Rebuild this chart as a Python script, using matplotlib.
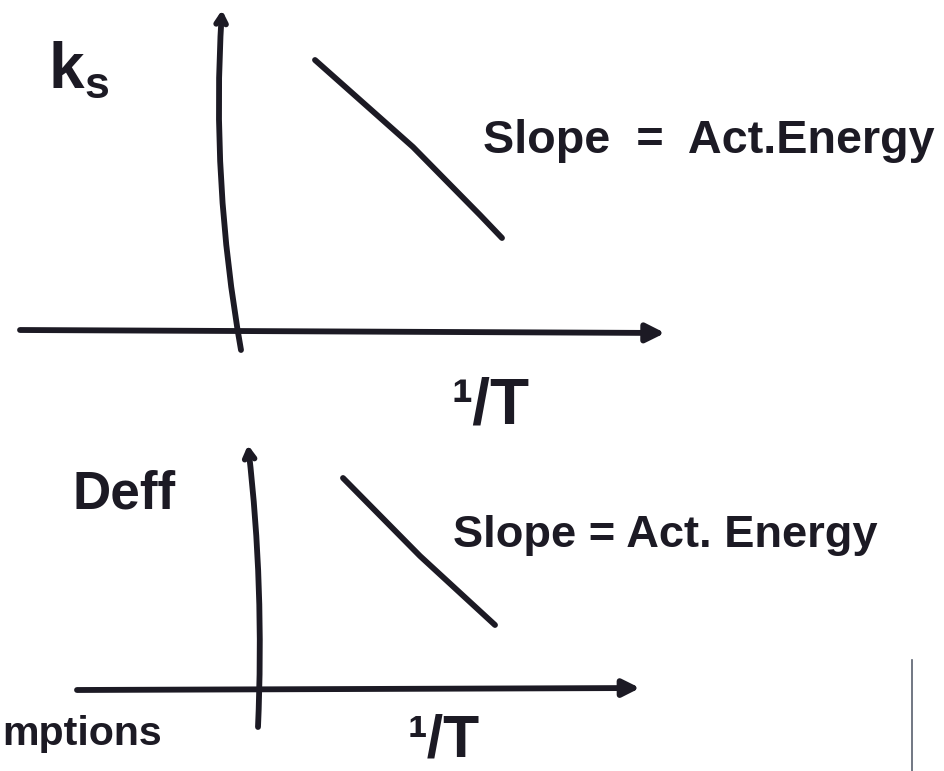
import matplotlib
matplotlib.use("Agg")
import matplotlib.pyplot as plt

# Reaction-rate constant against inverse temperature (Arrhenius sketch)
inv_T_ks = [0.75, 1.73, 2.40, 2.62]
ln_ks = [2.68, 1.81, 1.13, 0.90]

# Effective diffusivity against inverse temperature
inv_T_deff = [0.85, 1.62, 2.37]
ln_deff = [2.12, 1.34, 0.65]

y_label_top = "k$_\\mathregular{s}$"
y_label_bottom = "Deff"
x_label = "\u00b9/T"
slope_text_top = "Slope  =  Act.Energy"
slope_text_bottom = "Slope = Act. Energy"
side_note = "mptions"

INK = "#1c1a24"
LW = 4.2
W, H, DPI = 945, 771, 100

plt.rcParams["font.family"] = ["Liberation Sans Narrow", "Liberation Sans", "DejaVu Sans"]
plt.rcParams["font.weight"] = "bold"

fig = plt.figure(figsize=(W / DPI, H / DPI), dpi=DPI)
fig.patch.set_facecolor("white")


def panel(ox, oy):
    """Full-figure axes, 100 px per unit, origin at pixel (ox, oy)."""
    ax = fig.add_axes([0, 0, 1, 1])
    ax.set_xlim(-ox / 100, (W - ox) / 100)
    ax.set_ylim((oy - H) / 100, oy / 100)
    ax.axis("off")
    ax.patch.set_alpha(0)
    return ax


def fit_width(txt, width_px):
    r = fig.canvas.get_renderer()
    w = txt.get_window_extent(renderer=r).width
    txt.set_fontsize(txt.get_fontsize() * width_px / w)


def axis_arrow(ax, start, end, rad, style, head):
    ax.annotate("", xy=end, xytext=start, annotation_clip=False,
                arrowprops=dict(arrowstyle=f"{style},head_length={head[0]},head_width={head[1]}",
                                connectionstyle=f"arc3,rad={rad}", color=INK, lw=LW,
                                shrinkA=0, shrinkB=0, capstyle="round"))


# ---------- top panel: k_s ----------
ax1 = panel(240, 328)
axis_arrow(ax1, (-2.20, -0.02), (4.25, -0.05), 0.0, "-|>", (1.1, 0.55))
axis_arrow(ax1, (0.01, -0.22), (-0.18, 3.18), -0.06, "->", (0.6, 0.35))
ax1.plot(inv_T_ks, ln_ks, color=INK, lw=LW, solid_capstyle="round", solid_joinstyle="round")

ax1.text(-1.92, 2.40, y_label_top, fontsize=46, color=INK, ha="left", va="baseline")
t = ax1.text(2.43, 1.75, slope_text_top, fontsize=30, color=INK, ha="left", va="baseline")
fit_width(t, 452)
t = ax1.text(2.12, -0.95, x_label, fontsize=30, color=INK, ha="left", va="baseline")
fit_width(t, 78)

# ---------- bottom panel: Deff ----------
ax2 = panel(258, 690)
axis_arrow(ax2, (-1.81, 0.0), (3.82, 0.02), 0.0, "-|>", (1.0, 0.5))
axis_arrow(ax2, (0.0, -0.37), (-0.10, 2.45), 0.04, "->", (0.6, 0.35))
ax2.plot(inv_T_deff, ln_deff, color=INK, lw=LW, solid_capstyle="round", solid_joinstyle="round")

t = ax2.text(-1.86, 1.82, y_label_bottom, fontsize=30, color=INK, ha="left", va="baseline")
fit_width(t, 103)
t = ax2.text(1.95, 1.43, slope_text_bottom, fontsize=30, color=INK, ha="left", va="baseline")
fit_width(t, 425)
t = ax2.text(1.50, -0.785, x_label, fontsize=30, color=INK, ha="left", va="bottom")
fit_width(t, 72)
t = ax2.text(-2.56, -0.55, side_note, fontsize=30, color=INK, ha="left", va="baseline")
fit_width(t, 160)

# thin border line at the lower right
ax2.plot([6.54, 6.54], [0.30, -0.81], color="#59606e", lw=1.2)

fig.savefig("out.png", dpi=DPI, facecolor="white")
